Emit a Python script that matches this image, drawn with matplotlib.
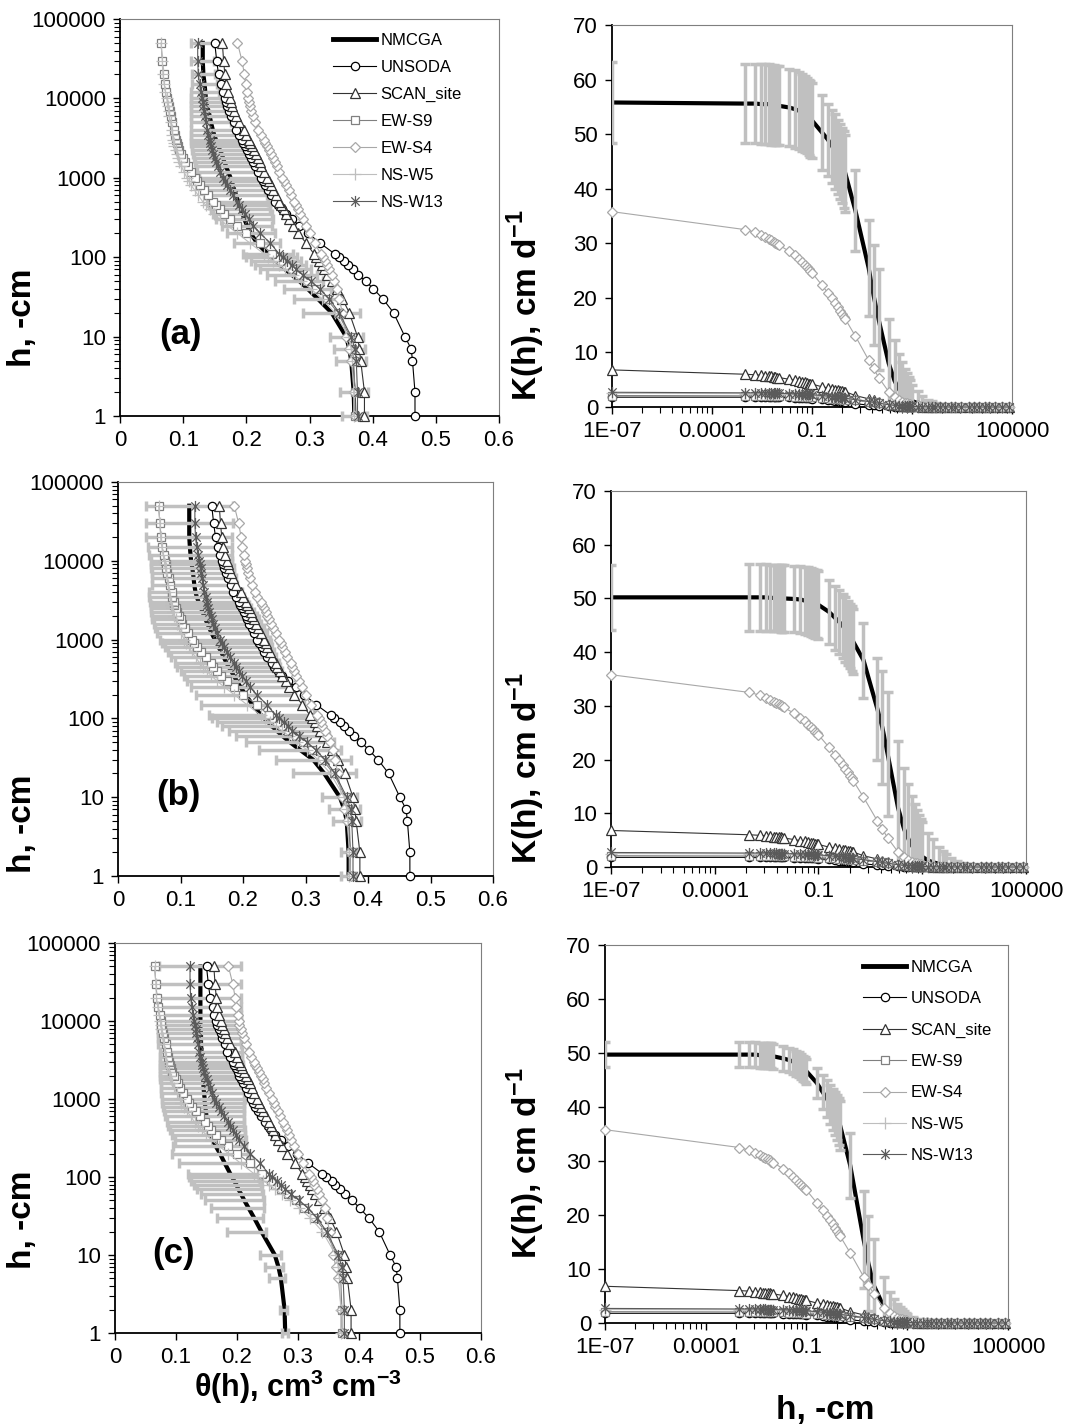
"""
Water retention curves theta(h) and hydraulic conductivity K(h) for the NMCGA
estimate against the reference data sets, three cases (a), (b), (c).
"""
import matplotlib
matplotlib.use("Agg")
import matplotlib.pyplot as plt
from matplotlib.path import Path
from matplotlib.lines import Line2D
from matplotlib.ticker import FixedLocator, FixedFormatter, NullFormatter

plt.rcParams['font.family'] = ['Liberation Sans', 'DejaVu Sans']
plt.rcParams['mathtext.fontset'] = 'custom'
plt.rcParams['mathtext.rm'] = 'Liberation Sans'
plt.rcParams['mathtext.bf'] = 'Liberation Sans:bold'

# ---------------- retention data: theta at pressure head h (-cm) ----------------
H_THETA = [1, 2, 5, 7, 10, 20, 30, 40, 50, 60, 70, 80, 90, 100, 110, 150, 200, 250, 300, 350,
           400, 450, 500, 600, 700, 800, 900, 1000, 1200, 1400, 1600, 1800, 2000, 2250, 2500,
           2750, 3000, 3500, 4000, 5000, 6000, 7000, 8000, 9000, 10000, 12000, 15000, 20000,
           30000, 50000]

TH_UNSODA = [0.467, 0.467, 0.463, 0.461, 0.451, 0.433, 0.416, 0.401, 0.389, 0.377, 0.369, 0.361,
             0.355, 0.346, 0.340, 0.317, 0.298, 0.284, 0.272, 0.263, 0.256, 0.250, 0.246, 0.239,
             0.234, 0.230, 0.226, 0.223, 0.218, 0.214, 0.210, 0.207, 0.204, 0.201, 0.198, 0.195,
             0.193, 0.188, 0.184, 0.180, 0.176, 0.173, 0.170, 0.168, 0.166, 0.163, 0.160, 0.156,
             0.153, 0.150]
TH_SCAN = [0.387, 0.387, 0.381, 0.379, 0.376, 0.363, 0.352, 0.343, 0.335, 0.328, 0.323, 0.319,
           0.315, 0.311, 0.307, 0.295, 0.282, 0.274, 0.268, 0.263, 0.259, 0.255, 0.252, 0.247,
           0.243, 0.239, 0.236, 0.233, 0.228, 0.224, 0.221, 0.218, 0.215, 0.212, 0.209, 0.206,
           0.204, 0.200, 0.196, 0.188, 0.184, 0.181, 0.178, 0.176, 0.174, 0.171, 0.168, 0.166,
           0.164, 0.162]
TH_EWS9 = [0.372, 0.372, 0.370, 0.368, 0.364, 0.345, 0.327, 0.310, 0.296, 0.284, 0.272, 0.263,
           0.255, 0.248, 0.241, 0.222, 0.200, 0.185, 0.174, 0.165, 0.158, 0.152, 0.148, 0.140,
           0.133, 0.127, 0.122, 0.118, 0.112, 0.107, 0.103, 0.100, 0.097, 0.094, 0.092, 0.090,
           0.089, 0.087, 0.086, 0.083, 0.081, 0.079, 0.077, 0.076, 0.075, 0.073, 0.071, 0.069,
           0.067, 0.065]
TH_EWS4 = [0.372, 0.371, 0.366, 0.362, 0.358, 0.352, 0.347, 0.344, 0.339, 0.335, 0.331, 0.327,
           0.324, 0.321, 0.318, 0.308, 0.300, 0.294, 0.289, 0.285, 0.282, 0.279, 0.276, 0.271,
           0.267, 0.263, 0.260, 0.257, 0.252, 0.248, 0.245, 0.242, 0.239, 0.236, 0.233, 0.230,
           0.228, 0.223, 0.219, 0.214, 0.211, 0.208, 0.206, 0.204, 0.203, 0.201, 0.199, 0.197,
           0.193, 0.186]
TH_NSW5 = [0.370, 0.370, 0.368, 0.366, 0.362, 0.340, 0.320, 0.302, 0.287, 0.274, 0.262, 0.252,
           0.243, 0.235, 0.228, 0.206, 0.186, 0.170, 0.158, 0.149, 0.142, 0.136, 0.131, 0.124,
           0.118, 0.113, 0.109, 0.106, 0.101, 0.097, 0.094, 0.092, 0.090, 0.088, 0.086, 0.085,
           0.084, 0.083, 0.082, 0.080, 0.078, 0.077, 0.076, 0.075, 0.074, 0.072, 0.070, 0.068,
           0.067, 0.065]
TH_NSW13 = [0.376, 0.376, 0.374, 0.372, 0.366, 0.347, 0.331, 0.316, 0.302, 0.289, 0.279, 0.272,
            0.265, 0.258, 0.252, 0.238, 0.222, 0.211, 0.204, 0.198, 0.193, 0.189, 0.185, 0.179,
            0.174, 0.170, 0.166, 0.163, 0.159, 0.155, 0.152, 0.150, 0.148, 0.146, 0.144, 0.143,
            0.142, 0.140, 0.138, 0.136, 0.134, 0.133, 0.132, 0.131, 0.130, 0.128, 0.126, 0.124,
            0.123, 0.123]

TH_NMCGA_A = [0.371, 0.370, 0.366, 0.363, 0.358, 0.335, 0.313, 0.297, 0.284, 0.272, 0.262, 0.254,
              0.247, 0.240, 0.234, 0.217, 0.207, 0.201, 0.197, 0.194, 0.191, 0.189, 0.187, 0.184,
              0.181, 0.179, 0.177, 0.175, 0.171, 0.168, 0.165, 0.163, 0.161, 0.158, 0.156, 0.154,
              0.152, 0.149, 0.147, 0.144, 0.142, 0.140, 0.138, 0.137, 0.136, 0.135, 0.134, 0.132,
              0.131, 0.131]
ERR_TH_A = [0.020, 0.022, 0.024, 0.025, 0.026, 0.045, 0.038, 0.037, 0.038, 0.040, 0.040, 0.040,
            0.040, 0.040, 0.040, 0.037, 0.038, 0.040, 0.045, 0.046, 0.047, 0.048, 0.048, 0.049,
            0.049, 0.050, 0.050, 0.050, 0.049, 0.048, 0.047, 0.046, 0.045, 0.044, 0.042, 0.041,
            0.040, 0.037, 0.035, 0.032, 0.030, 0.028, 0.026, 0.025, 0.024, 0.022, 0.020, 0.018,
            0.018, 0.018]

TH_NMCGA_B = [0.369, 0.369, 0.366, 0.362, 0.355, 0.330, 0.312, 0.291, 0.275, 0.263, 0.254, 0.246,
              0.240, 0.234, 0.229, 0.215, 0.204, 0.196, 0.190, 0.185, 0.181, 0.177, 0.174, 0.169,
              0.165, 0.161, 0.158, 0.155, 0.150, 0.146, 0.143, 0.140, 0.138, 0.135, 0.133, 0.131,
              0.129, 0.126, 0.124, 0.122, 0.121, 0.120, 0.119, 0.118, 0.117, 0.116, 0.115, 0.114,
              0.114, 0.114]
ERR_TH_B = [0.012, 0.013, 0.022, 0.025, 0.028, 0.050, 0.060, 0.065, 0.070, 0.074, 0.077, 0.080,
            0.082, 0.084, 0.084, 0.082, 0.079, 0.079, 0.080, 0.080, 0.081, 0.082, 0.083, 0.084,
            0.085, 0.086, 0.087, 0.088, 0.088, 0.087, 0.086, 0.085, 0.084, 0.082, 0.080, 0.079,
            0.078, 0.076, 0.075, 0.068, 0.067, 0.066, 0.066, 0.065, 0.065, 0.066, 0.067, 0.069,
            0.070, 0.070]

TH_NMCGA_C = [0.279, 0.278, 0.272, 0.268, 0.262, 0.240, 0.228, 0.219, 0.212, 0.207, 0.202, 0.199,
              0.195, 0.192, 0.189, 0.180, 0.172, 0.165, 0.160, 0.157, 0.155, 0.153, 0.152, 0.150,
              0.149, 0.148, 0.147, 0.147, 0.146, 0.145, 0.145, 0.144, 0.144, 0.143, 0.143, 0.143,
              0.142, 0.142, 0.142, 0.141, 0.141, 0.141, 0.140, 0.140, 0.140, 0.140, 0.140, 0.140,
              0.140, 0.140]
ERR_TH_C_LO = [0.006, 0.008, 0.020, 0.022, 0.024, 0.056, 0.060, 0.062, 0.064, 0.066, 0.068, 0.069,
               0.070, 0.070, 0.070, 0.075, 0.078, 0.070, 0.062, 0.063, 0.065, 0.066, 0.067, 0.068,
               0.069, 0.069, 0.070, 0.070, 0.070, 0.070, 0.070, 0.070, 0.070, 0.069, 0.069, 0.069,
               0.068, 0.068, 0.068, 0.070, 0.070, 0.070, 0.070, 0.070, 0.070, 0.070, 0.070, 0.069,
               0.069, 0.068]
ERR_TH_C_HI = [0.004, 0.004, 0.007, 0.008, 0.010, 0.008, 0.015, 0.025, 0.032, 0.036, 0.039, 0.041,
               0.043, 0.044, 0.045, 0.046, 0.046, 0.050, 0.054, 0.056, 0.058, 0.059, 0.060, 0.062,
               0.063, 0.064, 0.065, 0.066, 0.066, 0.066, 0.067, 0.067, 0.067, 0.067, 0.067, 0.067,
               0.067, 0.067, 0.067, 0.066, 0.066, 0.066, 0.066, 0.066, 0.066, 0.066, 0.066, 0.066,
               0.066, 0.067]

# ---------------- conductivity data: K (cm/d) at pressure head h (-cm) ----------------
H_K = [1e-7, 0.001, 0.002, 0.003, 0.004, 0.005, 0.006, 0.007, 0.008, 0.009,
       0.01, 0.02, 0.03, 0.04, 0.05, 0.06, 0.07, 0.08, 0.09,
       0.1, 0.2, 0.3, 0.4, 0.5, 0.6, 0.7, 0.8, 0.9,
       1, 2, 5, 7, 10, 20, 30, 40, 50, 60, 70, 80, 90,
       100, 150, 200, 300, 400, 500, 700, 1000, 1500, 2000, 3000, 5000, 7000, 10000,
       15000, 20000, 30000, 50000, 80000]

K_UNSODA = [1.8, 1.8, 1.8, 1.8, 1.8, 1.8, 1.8, 1.8, 1.8, 1.8,
            1.8, 1.75, 1.7, 1.7, 1.65, 1.65, 1.6, 1.6, 1.6,
            1.55, 1.4, 1.3, 1.2, 1.1, 1.05, 1.0, 0.95, 0.9,
            0.85, 0.6, 0.35, 0.28, 0.2, 0.1, 0.07, 0.05, 0.04, 0.03, 0.03, 0.02, 0.02,
            0.02, 0.01, 0.01, 0.0, 0.0, 0.0, 0.0, 0.0, 0.0, 0.0, 0.0, 0.0, 0.0, 0.0,
            0.0, 0.0, 0.0, 0.0, 0.0]
K_SCAN = [6.8, 6.0, 5.9, 5.8, 5.7, 5.6, 5.6, 5.5, 5.5, 5.4,
          5.4, 5.1, 4.9, 4.8, 4.6, 4.5, 4.4, 4.3, 4.2,
          4.2, 3.7, 3.5, 3.3, 3.2, 3.1, 3.0, 2.9, 2.8,
          2.8, 2.1, 1.5, 1.2, 1.0, 0.6, 0.45, 0.35, 0.3, 0.25, 0.22, 0.2, 0.18,
          0.16, 0.1, 0.08, 0.05, 0.04, 0.03, 0.02, 0.01, 0.01, 0.0, 0.0, 0.0, 0.0, 0.0,
          0.0, 0.0, 0.0, 0.0, 0.0]
K_EWS9 = [2.1, 2.05, 2.05, 2.05, 2.05, 2.0, 2.0, 2.0, 2.0, 2.0,
          2.0, 1.95, 1.9, 1.9, 1.85, 1.85, 1.8, 1.8, 1.8,
          1.75, 1.65, 1.6, 1.55, 1.5, 1.45, 1.45, 1.4, 1.4,
          1.35, 1.2, 0.95, 0.85, 0.7, 0.45, 0.33, 0.26, 0.21, 0.18, 0.16, 0.14, 0.12,
          0.11, 0.08, 0.06, 0.04, 0.03, 0.02, 0.02, 0.01, 0.01, 0.0, 0.0, 0.0, 0.0, 0.0,
          0.0, 0.0, 0.0, 0.0, 0.0]
K_EWS4 = [35.8, 32.5, 32.0, 31.5, 31.1, 30.8, 30.6, 30.3, 30.1, 29.9,
          29.7, 28.6, 27.8, 27.1, 26.5, 26.0, 25.6, 25.2, 24.9,
          24.6, 22.3, 20.9, 19.9, 19.0, 18.3, 17.6, 17.0, 16.5,
          16.1, 13.0, 8.6, 7.1, 5.4, 2.8, 1.8, 1.3, 1.0, 0.8, 0.7, 0.6, 0.5,
          0.45, 0.3, 0.22, 0.15, 0.11, 0.09, 0.06, 0.04, 0.03, 0.02, 0.01, 0.01, 0.0, 0.0,
          0.0, 0.0, 0.0, 0.0, 0.0]
K_NSW5 = [2.5, 2.45, 2.45, 2.45, 2.4, 2.4, 2.4, 2.4, 2.4, 2.4,
          2.4, 2.35, 2.3, 2.3, 2.25, 2.25, 2.2, 2.2, 2.2,
          2.15, 2.0, 1.9, 1.85, 1.8, 1.75, 1.7, 1.65, 1.6,
          1.6, 1.4, 1.1, 0.95, 0.8, 0.5, 0.37, 0.29, 0.24, 0.2, 0.18, 0.16, 0.14,
          0.12, 0.09, 0.07, 0.05, 0.04, 0.03, 0.02, 0.01, 0.01, 0.0, 0.0, 0.0, 0.0, 0.0,
          0.0, 0.0, 0.0, 0.0, 0.0]
K_NSW13 = [2.7, 2.6, 2.6, 2.6, 2.55, 2.55, 2.55, 2.5, 2.5, 2.5,
           2.5, 2.45, 2.4, 2.4, 2.35, 2.35, 2.3, 2.3, 2.3,
           2.25, 2.1, 2.0, 1.9, 1.85, 1.8, 1.75, 1.7, 1.65,
           1.6, 1.35, 1.0, 0.85, 0.7, 0.42, 0.3, 0.24, 0.2, 0.17, 0.15, 0.13, 0.12,
           0.1, 0.07, 0.05, 0.04, 0.03, 0.02, 0.01, 0.01, 0.0, 0.0, 0.0, 0.0, 0.0, 0.0,
           0.0, 0.0, 0.0, 0.0, 0.0]

K_NMCGA_A = [55.8, 55.6, 55.6, 55.5, 55.5, 55.5, 55.4, 55.4, 55.3, 55.3,
             55.2, 54.9, 54.6, 54.3, 54.0, 53.7, 53.4, 53.1, 52.8,
             52.5, 50.3, 49.0, 47.8, 46.8, 45.8, 45.0, 44.2, 43.5,
             42.8, 36.0, 25.5, 20.5, 16.0, 8.0, 4.8, 3.3, 2.5, 2.0, 1.7, 1.4, 1.2,
             1.1, 0.7, 0.5, 0.35, 0.27, 0.22, 0.16, 0.11, 0.08, 0.06, 0.04, 0.03, 0.02, 0.01,
             0.01, 0.0, 0.0, 0.0, 0.0]
K_ERR_A = [7.5, 7.3, 7.3, 7.3, 7.3, 7.3, 7.3, 7.2, 7.2, 7.2,
           7.2, 7.1, 7.1, 7.0, 7.0, 7.0, 6.9, 6.9, 6.9,
           6.9, 6.9, 6.6, 6.7, 6.8, 6.8, 6.9, 6.9, 7.0,
           7.0, 7.5, 8.8, 9.1, 9.2, 8.2, 7.5, 6.5, 5.7, 5.0, 4.5, 4.1, 3.8,
           3.0, 2.2, 1.6, 1.0, 0.8, 0.6, 0.45, 0.3, 0.2, 0.15, 0.1, 0.08, 0.06, 0.05,
           0.05, 0.04, 0.04, 0.04, 0.04]

K_NMCGA_B = [50.2, 50.2, 50.2, 50.2, 50.1, 50.1, 50.1, 50.1, 50.0, 50.0,
             50.0, 49.9, 49.8, 49.6, 49.5, 49.3, 49.2, 49.0, 48.9,
             48.8, 47.5, 46.4, 45.6, 44.9, 44.2, 43.6, 43.0, 42.5,
             42.0, 38.5, 29.5, 26.0, 21.0, 11.0, 7.0, 5.2, 4.0, 3.3, 2.8, 2.4, 2.1,
             1.9, 1.2, 0.9, 0.6, 0.45, 0.35, 0.25, 0.18, 0.12, 0.09, 0.06, 0.04, 0.03, 0.02,
             0.01, 0.01, 0.0, 0.0, 0.0]
K_ERR_B = [6.1, 6.2, 6.2, 6.2, 6.2, 6.2, 6.2, 6.2, 6.2, 6.2,
           6.2, 6.2, 6.2, 6.2, 6.3, 6.3, 6.3, 6.3, 6.3,
           6.3, 6.0, 6.0, 6.0, 6.0, 6.0, 6.0, 6.0, 6.0,
           6.0, 7.0, 9.5, 10.5, 11.5, 12.5, 11.5, 10.2, 9.2, 8.4, 7.8, 7.3, 6.8,
           6.4, 5.2, 4.3, 3.2, 2.5, 2.1, 1.5, 1.0, 0.6, 0.4, 0.2, 0.1, 0.08, 0.05,
           0.05, 0.04, 0.04, 0.04, 0.04]

K_NMCGA_C = [49.7, 49.7, 49.7, 49.7, 49.6, 49.6, 49.6, 49.6, 49.5, 49.5,
             49.4, 49.0, 48.7, 48.4, 48.1, 47.8, 47.5, 47.2, 46.9,
             46.6, 44.5, 42.8, 41.6, 40.5, 39.6, 38.8, 38.0, 37.3,
             36.6, 29.2, 15.5, 11.0, 7.0, 3.0, 1.8, 1.3, 1.0, 0.8, 0.65, 0.55, 0.5,
             0.45, 0.3, 0.2, 0.14, 0.1, 0.08, 0.05, 0.03, 0.02, 0.01, 0.0, 0.0, 0.0, 0.0,
             0.0, 0.0, 0.0, 0.0, 0.0]
K_ERR_C = [2.3, 2.3, 2.3, 2.3, 2.3, 2.3, 2.3, 2.3, 2.3, 2.3,
           2.3, 2.3, 2.3, 2.3, 2.3, 2.3, 2.3, 2.3, 2.3,
           2.3, 2.8, 3.1, 3.4, 3.6, 3.8, 4.0, 4.2, 4.4,
           4.6, 6.0, 9.0, 8.8, 8.5, 5.5, 4.0, 3.2, 2.6, 2.2, 1.9, 1.6, 1.4,
           1.2, 0.8, 0.6, 0.4, 0.3, 0.25, 0.2, 0.15, 0.1, 0.08, 0.05, 0.04, 0.04, 0.04,
           0.04, 0.04, 0.04, 0.04, 0.04]

# ---------------- names, ticks, labels ----------------
REF_NAMES = ['UNSODA', 'SCAN_site', 'EW-S9', 'EW-S4', 'NS-W5', 'NS-W13']
TH_REF = [TH_UNSODA, TH_SCAN, TH_EWS9, TH_EWS4, TH_NSW5, TH_NSW13]
K_REF = [K_UNSODA, K_SCAN, K_EWS9, K_EWS4, K_NSW5, K_NSW13]

H_TICKS = [1, 10, 100, 1000, 10000, 100000]
H_TICK_LABELS = ['1', '10', '100', '1000', '10000', '100000']
TH_TICKS = [0, 0.1, 0.2, 0.3, 0.4, 0.5, 0.6]
TH_TICK_LABELS = ['0', '0.1', '0.2', '0.3', '0.4', '0.5', '0.6']
HK_TICKS = [1e-7, 1e-4, 0.1, 100, 100000]
HK_TICK_LABELS = ['1E-07', '0.0001', '0.1', '100', '100000']
K_TICKS = [0, 10, 20, 30, 40, 50, 60, 70]

ERR_COLOR = '#C0C0C0'
STAR = Path([(0, -1), (0, 1), (-0.75, -0.75), (0.75, 0.75), (-0.75, 0.75), (0.75, -0.75)],
            [Path.MOVETO, Path.LINETO, Path.MOVETO, Path.LINETO, Path.MOVETO, Path.LINETO])
STYLES = {
    'UNSODA': dict(color='#000000', marker='o', ms=6, mfc='white'),
    'SCAN_site': dict(color='#333333', marker='^', ms=6.5, mfc='white'),
    'EW-S9': dict(color='#808080', marker='s', ms=5.5, mfc='white'),
    'EW-S4': dict(color='#A8A8A8', marker='D', ms=5, mfc='white'),
    'NS-W5': dict(color='#BEBEBE', marker='+', ms=8),
    'NS-W13': dict(color='#5A5A5A', marker=STAR, ms=8, mfc='none'),
}


def style_frame(ax):
    """Excel-like frame: black axis lines, grey plot-area border."""
    for s in ['top', 'right']:
        ax.spines[s].set_color('#7F7F7F')
        ax.spines[s].set_linewidth(0.8)
    for s in ['left', 'bottom']:
        ax.spines[s].set_color('black')
        ax.spines[s].set_linewidth(1.3)
    ax.tick_params(which='major', direction='out', length=5, width=1, labelsize=16, pad=5,
                   top=False, right=False)
    ax.tick_params(which='minor', direction='out', length=4, width=0.8, top=False, right=False)


def theta_panel(ax, nmcga, err, tag):
    """theta(h) panel with NMCGA error bars on theta."""
    ax.plot(nmcga, H_THETA, color='black', lw=3, zorder=2, clip_on=False)
    eb = ax.errorbar(nmcga, H_THETA, xerr=err, fmt='none', ecolor=ERR_COLOR, elinewidth=2.5,
                     capsize=3.5, capthick=2.5, zorder=3)
    for art in list(eb.lines[1]) + list(eb.lines[2]):
        art.set_clip_on(False)
    for i, name in enumerate(REF_NAMES):
        ax.plot(TH_REF[i], H_THETA, lw=0.8, mew=0.9, zorder=4 + i, clip_on=False, **STYLES[name])

    ax.set_yscale('log')
    ax.set_ylim(1, 100000)
    ax.set_xlim(0, 0.6)
    ax.yaxis.set_major_locator(FixedLocator(H_TICKS))
    ax.yaxis.set_major_formatter(FixedFormatter(H_TICK_LABELS))
    minors = [m * k for m in H_TICKS[:-1] for k in range(2, 10)]
    ax.yaxis.set_minor_locator(FixedLocator(minors))
    ax.yaxis.set_minor_formatter(NullFormatter())
    ax.set_xticks(TH_TICKS)
    ax.set_xticklabels(TH_TICK_LABELS)
    style_frame(ax)
    ax.text(0.16, 0.205, tag, transform=ax.transAxes, fontsize=25, fontweight='bold',
            ha='center', va='center')


def k_panel(ax, nmcga, err):
    """K(h) panel with NMCGA error bars on K."""
    ax.plot(H_K, nmcga, color='black', lw=3, zorder=2)
    ax.errorbar(H_K, nmcga, yerr=err, fmt='none', ecolor=ERR_COLOR, elinewidth=2.5,
                capsize=3.5, capthick=2.5, zorder=3)
    for i, name in enumerate(REF_NAMES):
        ax.plot(H_K, K_REF[i], lw=0.8, mew=0.9, zorder=4 + i, clip_on=False, **STYLES[name])

    ax.set_xscale('log')
    ax.set_xlim(1e-7, 1e5)
    ax.set_ylim(0, 70)
    ax.xaxis.set_major_locator(FixedLocator(HK_TICKS))
    ax.xaxis.set_major_formatter(FixedFormatter(HK_TICK_LABELS))
    # Excel log axis with base 1000: minor ticks at k^3 times each major
    minors = [m * k ** 3 for m in HK_TICKS[:-1] for k in range(2, 10)]
    ax.xaxis.set_minor_locator(FixedLocator(minors))
    ax.xaxis.set_minor_formatter(NullFormatter())
    ax.set_yticks(K_TICKS)
    style_frame(ax)


def legend_handles():
    handles = [Line2D([], [], color='black', lw=3.5)]
    for name in REF_NAMES:
        handles.append(Line2D([], [], lw=0.8, mew=0.9, **STYLES[name]))
    return handles, ['NMCGA'] + REF_NAMES


W, H = 1070, 1426
fig = plt.figure(figsize=(W / 100, H / 100), dpi=100)


def px_axes(x0, x1, y0, y1):
    """axes from pixel box (left, right, top, bottom)."""
    return fig.add_axes([x0 / W, 1 - y1 / H, (x1 - x0) / W, (y1 - y0) / H])


ax_ta = px_axes(120, 499, 19, 416)
ax_ka = px_axes(612, 1012, 25, 407)
ax_tb = px_axes(118, 493, 482, 876)
ax_kb = px_axes(611, 1026, 491, 867)
ax_tc = px_axes(115, 481, 943, 1333)
ax_kc = px_axes(605, 1008, 945, 1323)

theta_panel(ax_ta, TH_NMCGA_A, ERR_TH_A, '(a)')
theta_panel(ax_tb, TH_NMCGA_B, ERR_TH_B, '(b)')
theta_panel(ax_tc, TH_NMCGA_C, [ERR_TH_C_LO, ERR_TH_C_HI], '(c)')
k_panel(ax_ka, K_NMCGA_A, K_ERR_A)
k_panel(ax_kb, K_NMCGA_B, K_ERR_B)
k_panel(ax_kc, K_NMCGA_C, K_ERR_C)

handles, labels = legend_handles()
ax_ta.legend(handles, labels, loc='upper left', bbox_to_anchor=(333 / W, 1 - 33 / H),
             bbox_transform=fig.transFigure, frameon=False, fontsize=12, handlelength=2.6,
             handletextpad=0.25, labelspacing=0.72, borderpad=0, borderaxespad=0)
ax_kc.legend(handles, labels, loc='upper left', bbox_to_anchor=(863 / W, 1 - 960 / H),
             bbox_transform=fig.transFigure, frameon=False, fontsize=12, handlelength=2.6,
             handletextpad=0.25, labelspacing=0.98, borderpad=0, borderaxespad=0)

# axis titles placed like the original figure
for yc in [318, 824, 1220]:
    fig.text(22 / W, 1 - yc / H, 'h, -cm', rotation=90, fontsize=24, fontweight='bold',
             ha='center', va='center')
for yc in [305, 768, 1163]:
    fig.text(526 / W, 1 - yc / H, r'K(h), cm d$^\mathbf{-1}$', rotation=90, fontsize=24,
             fontweight='bold', ha='center', va='center')
fig.text(298 / W, 1 - 1387 / H, r'θ(h), cm$^\mathbf{3}$ cm$^\mathbf{-3}$', fontsize=22,
         fontweight='bold', ha='center', va='center')
fig.text(825 / W, 1 - 1410 / H, 'h, -cm', fontsize=24, fontweight='bold',
         ha='center', va='center')

fig.savefig('out.png', dpi=100)
